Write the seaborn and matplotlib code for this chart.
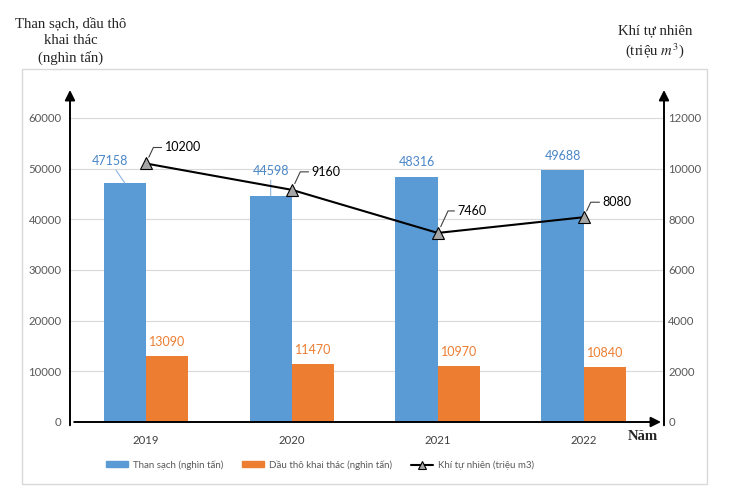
import numpy as np
import pandas as pd
import matplotlib
matplotlib.use("Agg")
import matplotlib.pyplot as plt
from matplotlib.patches import Rectangle, Patch
from matplotlib.lines import Line2D
import seaborn as sns

# ---------------- data ----------------
years = ["2019", "2020", "2021", "2022"]
coal = [47158, 44598, 48316, 49688]      # Than sạch (nghìn tấn)
oil = [13090, 11470, 10970, 10840]       # Dầu thô khai thác (nghìn tấn)
gas = [10200, 9160, 7460, 8080]          # Khí tự nhiên (triệu m3)
series_names = ["Than sạch (nghìn tấn)", "Dầu thô khai thác (nghìn tấn)", "Khí tự nhiên (triệu m3)"]
left_ticks = [0, 10000, 20000, 30000, 40000, 50000, 60000]
right_ticks = [0, 2000, 4000, 6000, 8000, 10000, 12000]

# ---------------- style ----------------
sns.set_style("white")
plt.rcParams["font.family"] = ["Lato", "Noto Sans", "DejaVu Sans"]
plt.rcParams["mathtext.fontset"] = "stix"
SERIF = ["Liberation Serif", "DejaVu Serif"]

BLUE = "#5B9BD5"
ORANGE = "#ED7D31"
BLUE_TXT = "#4A86C8"
GREY_TXT = "#595959"
PX = 72 / 100.0  # px -> pt

df = pd.DataFrame({
    "year": years * 2,
    "value": coal + oil,
    "series": [series_names[0]] * len(years) + [series_names[1]] * len(years),
})

fig = plt.figure(figsize=(7.32, 4.97), dpi=100)
ax = fig.add_axes([70 / 732, 75 / 497, 594 / 732, 332 / 497])

sns.barplot(data=df, x="year", y="value", hue="series", order=years,
            hue_order=series_names[:2], palette=[BLUE, ORANGE],
            width=0.58, saturation=1, ax=ax, legend=False,
            linewidth=0, edgecolor="none")

ax.set_xlim(-0.52, 3.55)
ax.set_ylim(0, 65500)
ax.set_yticks(left_ticks)
ax.set_yticklabels([str(t) for t in left_ticks])
ax.set_xlabel("")
ax.set_ylabel("")
ax.yaxis.grid(True, color="#d9d9d9", lw=0.8)
ax.set_axisbelow(True)
for s in ax.spines.values():
    s.set_visible(False)
ax.tick_params(axis="y", length=0, pad=6, labelsize=8.2, labelcolor=GREY_TXT)
ax.tick_params(axis="x", length=0, pad=9, labelsize=8.2, labelcolor="#404040")

ax2 = ax.twinx()
pos = np.arange(len(years))
sns.lineplot(x=pos, y=gas, ax=ax2, color="black", linewidth=1.5, marker="^",
             markersize=8, markerfacecolor="#a5a5a5", markeredgecolor="black",
             markeredgewidth=0.8)
ax2.set_xlim(-0.52, 3.55)
ax2.set_ylim(0, 13100)
ax2.set_yticks(right_ticks)
ax2.set_yticklabels([str(t) for t in right_ticks])
ax2.set_ylabel("")
for s in ax2.spines.values():
    s.set_visible(False)
ax2.tick_params(axis="y", length=0, pad=3, labelsize=8.2, labelcolor=GREY_TXT)

# axis arrows
arrow = dict(arrowstyle="-|>,head_length=0.6,head_width=0.3", color="black",
             lw=1.4, shrinkA=0, shrinkB=0, mutation_scale=10)
ax.annotate("", xy=(0, 1.0), xytext=(0, -0.01), xycoords="axes fraction",
            textcoords="axes fraction", arrowprops=arrow, annotation_clip=False)
ax.annotate("", xy=(1.0, 1.0), xytext=(1.0, -0.01), xycoords="axes fraction",
            textcoords="axes fraction", arrowprops=arrow, annotation_clip=False)
ax.annotate("", xy=(0.995, 0), xytext=(0.007, 0), xycoords="axes fraction",
            textcoords="axes fraction", arrowprops=arrow, annotation_clip=False)

# bar labels
coal_off = [(-15, 22), (0, 25), (0, 15), (0, 14)]
coal_leader = [True, True, False, False]
for rect, v, (dx, dy), lead in zip(ax.containers[0], coal, coal_off, coal_leader):
    x = rect.get_x() + rect.get_width() / 2
    y = rect.get_height()
    ap = dict(arrowstyle="-", color="#8db4e2", lw=0.8, shrinkA=0, shrinkB=0) if lead else None
    ax.annotate(str(v), xy=(x, y), xytext=(dx * PX, dy * PX), textcoords="offset points",
                ha="center", va="center", fontsize=9, color=BLUE_TXT, arrowprops=ap)
for rect, v in zip(ax.containers[1], oil):
    x = rect.get_x() + rect.get_width() / 2
    y = rect.get_height()
    ax.annotate(str(v), xy=(x, y), xytext=(0, 14 * PX), textcoords="offset points",
                ha="center", va="center", fontsize=9, color=ORANGE)

# line labels
gas_off = [(19, 16), (20, 18), (20, 22), (19, 15)]
for i, (v, (dx, dy)) in enumerate(zip(gas, gas_off)):
    ax2.annotate(str(v), xy=(pos[i], v), xytext=(dx * PX, dy * PX), textcoords="offset points",
                 ha="left", va="center", fontsize=9, color="black",
                 arrowprops=dict(arrowstyle="-", color="#404040", lw=0.8,
                                 connectionstyle="angle,angleA=0,angleB=65,rad=0",
                                 shrinkA=0, shrinkB=5))

# titles
fig.text(71 / 732, 1 - 41 / 497, "Than sạch, dầu thô\nkhai thác\n(nghìn tấn)",
         ha="center", va="center", family=SERIF, fontsize=10.6, linespacing=1.38)
fig.text(655 / 732, 1 - 42 / 497, "Khí tự nhiên\n(triệu $m^3$)",
         ha="center", va="center", family=SERIF, fontsize=10.6, linespacing=1.3)
fig.text(643 / 732, 1 - 437 / 497, "Năm", ha="center", va="center",
         family=SERIF, fontsize=10.6, weight="bold")

# frame
fig.patches.append(Rectangle((22 / 732, 13 / 497), 685 / 732, 415 / 497,
                             transform=fig.transFigure, fill=False,
                             edgecolor="#d9d9d9", lw=1))

# legend
handles = [Patch(facecolor=BLUE, edgecolor=BLUE),
           Patch(facecolor=ORANGE, edgecolor=ORANGE),
           Line2D([], [], color="black", lw=1.5, marker="^", markersize=6,
                  markerfacecolor="#a5a5a5", markeredgecolor="black", markeredgewidth=0.8)]
fig.legend(handles, series_names, loc="center", bbox_to_anchor=(320 / 732, 1 - 465 / 497),
           ncol=3, frameon=False, fontsize=7.0, handlelength=2.2, handleheight=0.55,
           handletextpad=0.5, columnspacing=2.0, labelcolor=GREY_TXT)

fig.savefig("out.png", dpi=100)
